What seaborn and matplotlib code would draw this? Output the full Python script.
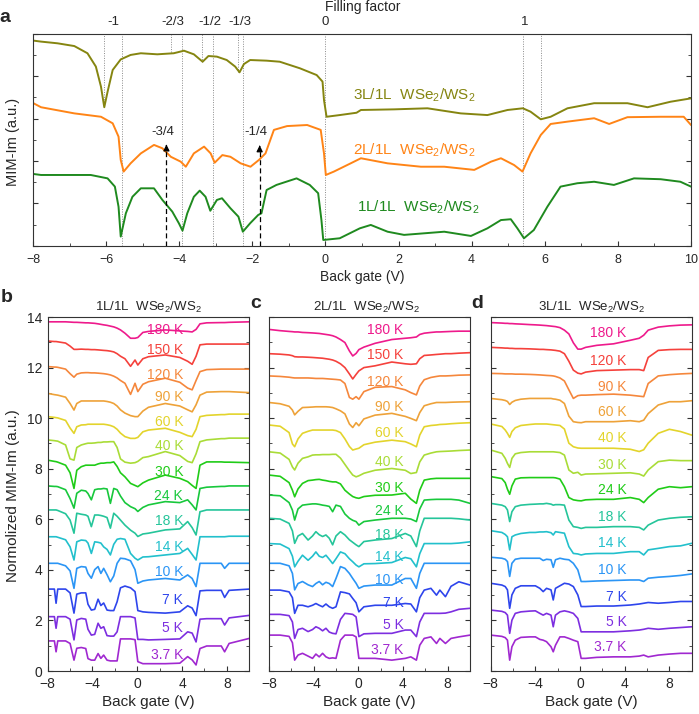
import numpy as np
import matplotlib
matplotlib.use("Agg")
import matplotlib.pyplot as plt
import matplotlib.transforms as mtransforms
from matplotlib.ticker import MultipleLocator
import seaborn as sns

sns.set_style("ticks")
plt.rcParams["font.family"] = ["Liberation Sans", "DejaVu Sans"]
plt.rcParams["mathtext.fontset"] = "custom"
plt.rcParams["mathtext.rm"] = "Liberation Sans"
plt.rcParams["axes.linewidth"] = 0.8
plt.rcParams["axes.edgecolor"] = "#333333"

# ---------------- panel a: MIM-Im vs back gate ----------------
A_X_3L = [-8, -7.78, -7.33, -6.87, -6.51, -6.28, -6.14, -6.05, -5.96, -5.82, -5.60, -5.33, -5.05, -4.60,
          -4.15, -3.87, -3.60, -3.36, -3.20, -2.97, -2.70, -2.47, -2.35, -2.23, -2.06, -1.61, -1.25, -0.70,
          -0.24, -0.08, -0.04, 0.03, 0.39, 0.85, 0.97, 1.88, 2.79, 3.70, 4.43, 4.98, 5.40, 5.61, 5.89, 6.16,
          6.62, 7.35, 8.26, 8.81, 9.44, 10.0]
A_Y_3L = [9.69, 9.64, 9.56, 9.43, 9.09, 8.46, 7.51, 6.54, 7.27, 8.30, 8.80, 9.01, 9.09, 9.04, 9.09, 9.21,
          9.04, 8.69, 8.96, 8.93, 8.77, 8.46, 8.19, 8.58, 8.77, 8.74, 8.69, 8.38, 8.06, 7.75, 6.88, 6.09,
          6.17, 6.28, 6.41, 6.44, 6.49, 6.25, 6.17, 6.41, 6.49, 6.33, 5.97, 6.09, 6.49, 6.73, 6.73, 6.54,
          6.80, 6.96]

A_X_2L = [-8, -7.78, -6.87, -6.14, -5.82, -5.66, -5.60, -5.52, -5.33, -5.05, -4.69, -4.46, -4.23, -3.96,
          -3.82, -3.60, -3.32, -3.14, -3.03, -2.82, -2.60, -2.32, -2.05, -1.82, -1.64, -1.41, -1.05, -0.50,
          -0.13, -0.04, 0.01, 0.23, 0.69, 0.97, 1.70, 2.61, 3.25, 4.07, 4.53, 4.80, 5.16, 5.39, 5.61, 5.89,
          6.16, 6.62, 7.35, 7.76, 8.26, 9.17, 9.80, 10.0]
A_Y_2L = [6.74, 6.54, 6.25, 6.09, 5.78, 5.15, 4.05, 3.50, 3.89, 4.36, 4.76, 4.60, 4.20, 3.97, 3.73, 4.36,
          4.68, 4.36, 3.92, 4.28, 4.20, 3.89, 3.73, 4.05, 4.36, 5.47, 5.65, 5.70, 5.47, 4.36, 3.34, 3.50,
          3.89, 4.13, 3.89, 3.73, 3.73, 3.58, 3.97, 4.13, 3.81, 3.50, 4.36, 5.23, 5.75, 5.86, 6.02, 5.75,
          6.07, 6.09, 6.09, 5.70]

A_X_1L = [-8, -7.78, -6.42, -5.96, -5.76, -5.66, -5.60, -5.46, -5.28, -5.05, -4.69, -4.46, -4.19, -4.01,
          -3.91, -3.78, -3.60, -3.44, -3.28, -3.15, -2.97, -2.83, -2.60, -2.38, -2.26, -2.06, -1.84, -1.75,
          -1.61, -1.34, -0.79, -0.43, -0.20, -0.11, -0.06, 0.39, 0.94, 1.24, 1.70, 2.15, 3.25, 3.98, 4.43,
          4.80, 5.07, 5.25, 5.43, 5.70, 6.07, 6.43, 6.89, 7.35, 7.89, 8.44, 9.17, 9.71, 10.0]
A_Y_1L = [3.39, 3.34, 3.34, 3.18, 2.79, 1.84, 0.43, 1.53, 2.31, 2.71, 2.71, 2.16, 1.61, 1.06, 0.71, 1.53,
          2.31, 2.60, 2.31, 1.65, 2.16, 2.24, 1.77, 1.37, 0.66, 1.06, 1.45, 1.53, 2.63, 2.87, 3.18, 2.87,
          2.48, 1.21, 0.27, 0.35, 0.82, 0.98, 0.66, 0.51, 0.66, 0.46, 0.82, 1.21, 1.25, 0.82, 0.35, 0.74,
          1.84, 2.79, 2.95, 3.02, 2.87, 3.18, 3.14, 3.02, 2.79]

# filling factors on the top axis
FILL_POS = [-5.8, -4.17, -3.17, -2.33, 0.0, 5.44]
FILL_TXT = ["-1", "-2/3", "-1/2", "-1/3", "0", "1"]
# guide lines: full height (1L/2L) and short ones ending on the 3L curve
GUIDE_LONG = [-5.57, -3.92, -3.08, -2.26, 0.0, 5.41]
GUIDE_SHORT = [-6.07, -4.23, -3.38, -2.39, 5.90]
GUIDE_SHORT_END = [6.54, 9.16, 8.69, 8.22, 5.97]
ARROW_X = [-4.35, -1.80]
ARROW_TIP = [4.91, 4.87]
ARROW_TXT = ["-3/4", "-1/4"]

# ---------------- panel b: 1L/1L temperature series ----------------
TEMPS_BC = ["180 K", "150 K", "120 K", "90 K", "60 K", "40 K", "30 K", "24 K", "18 K", "14 K", "10 K",
            "7 K", "5 K", "3.7 K"]
TEMPS_D = ["180 K", "120 K", "90 K", "60 K", "40 K", "30 K", "24 K", "18 K", "14 K", "10 K", "7 K", "5 K",
           "3.7 K"]

B_X = [-8, -7.4, -7.25, -7.1, -6.4, -6.0, -5.65, -5.4, -5.0, -4.6, -4.4, -4.1, -3.8, -3.5, -3.25, -3.0,
       -2.7, -2.4, -2.1, -1.8, -1.5, -1.1, -0.6, -0.2, 0.05, 0.5, 1.0, 2.5, 3.8, 4.5, 4.9, 5.25, 5.6, 6.2,
       7.5, 7.8, 8.2, 10]
B_BASE = [13.81, 13.05, 12.04, 10.98, 10.06, 9.14, 8.34, 7.32, 6.37, 5.31, 4.26, 3.24, 2.15, 1.19]
b_180 = [0, 0, 0, 0, 0, -0.01, -0.02, -0.02, -0.03, -0.04, -0.04, -0.05, -0.06, -0.08, -0.1, -0.12, -0.14,
         -0.17, -0.2, -0.25, -0.32, -0.45, -0.65, -0.65, -0.62, -0.42, -0.38, -0.32, -0.36, -0.38, -0.4,
         -0.3, -0.08, -0.04, -0.03, -0.03, -0.02, 0]
b_150 = [0, -0.02, -0.02, -0.03, -0.08, -0.2, -0.33, -0.33, -0.32, -0.33, -0.33, -0.34, -0.34, -0.35,
         -0.36, -0.37, -0.38, -0.4, -0.43, -0.5, -0.6, -0.7, -1.0, -0.75, -0.95, -0.7, -0.62, -0.55, -0.65,
         -0.8, -0.92, -0.6, -0.15, -0.12, -0.12, -0.12, -0.12, -0.12]
b_120 = [0, -0.02, -0.02, -0.03, -0.1, -0.28, -0.42, -0.3, -0.25, -0.24, -0.24, -0.25, -0.25, -0.26,
         -0.27, -0.28, -0.3, -0.33, -0.38, -0.45, -0.55, -0.66, -1.1, -0.66, -0.99, -0.7, -0.6, -0.46,
         -0.62, -0.85, -0.92, -0.55, -0.2, -0.12, -0.1, -0.1, -0.1, -0.1]
b_90 = [0, -0.05, -0.06, -0.07, -0.15, -0.4, -0.66, -0.4, -0.3, -0.3, -0.3, -0.3, -0.3, -0.3, -0.3, -0.3,
        -0.32, -0.35, -0.4, -0.5, -0.65, -0.78, -0.88, -0.92, -0.92, -0.7, -0.55, -0.4, -0.5, -0.65, -0.73,
        -0.45, -0.07, 0.05, 0.07, 0.07, 0.07, 0.03]
b_60 = [0, -0.03, -0.04, -0.05, -0.15, -0.45, -0.66, -0.4, -0.33, -0.32, -0.3, -0.3, -0.3, -0.3, -0.3,
        -0.3, -0.32, -0.35, -0.4, -0.5, -0.65, -0.79, -0.86, -0.86, -0.82, -0.6, -0.53, -0.46, -0.62, -0.75,
        -0.79, -0.5, 0, 0.05, 0.08, 0.08, 0.1, 0.1]
b_40 = [0, -0.03, -0.04, -0.05, -0.2, -0.75, -0.8, -0.3, -0.2, -0.15, -0.13, -0.13, -0.12, -0.1, -0.1,
        -0.08, -0.08, -0.07, -0.07, -0.3, -0.75, -0.88, -0.92, -0.9, -0.85, -0.7, -0.66, -0.46, -0.62,
        -0.85, -0.9, -0.55, -0.07, 0, 0.05, 0.05, 0.07, 0.07]
b_30 = [0, -0.05, -0.06, -0.08, -0.2, -0.5, -1.12, -0.4, -0.26, -0.2, -0.2, -0.2, -0.2, -0.15, -0.12,
        -0.12, -0.1, -0.1, -0.07, -0.25, -0.5, -0.66, -0.92, -1.0, -1.05, -0.9, -0.79, -0.59, -0.72, -0.85,
        -1.0, -1.12, -0.2, -0.07, -0.07, -0.08, -0.08, -0.1]
b_24 = [0, -0.02, -0.02, -0.03, -0.15, -0.5, -0.88, -0.29, -0.17, -0.2, -0.3, -0.55, -0.15, -0.12, -0.12,
        -0.1, -0.12, -0.69, -0.1, -0.15, -0.4, -0.66, -0.82, -0.9, -1.01, -0.85, -0.75, -0.62, -0.66, -0.55,
        -0.75, -0.95, -0.1, -0.05, -0.02, -0.02, 0, 0]
b_18 = [0, 0, 0, -0.02, -0.15, -0.4, -0.92, -0.13, -0.17, -0.2, -0.25, -0.66, -0.2, -0.2, -0.22, -0.25,
        -0.3, -0.72, -0.13, -0.25, -0.4, -0.6, -0.8, -0.92, -1.05, -0.95, -0.92, -0.79, -0.75, -0.46, -0.7,
        -0.99, -0.07, 0, 0, 0, 0, 0]
b_14 = [0, 0, 0, -0.02, -0.12, -0.4, -0.92, -0.2, -0.13, -0.15, -0.25, -0.66, -0.2, -0.22, -0.25, -0.4,
        -0.5, -0.72, -0.3, -0.1, -0.07, -0.1, -0.66, -0.85, -0.92, -0.8, -0.79, -0.72, -0.66, -0.46, -0.7,
        -0.92, 0, 0, 0, 0, 0.02, 0.02]
b_10 = [0, 0, 0, 0, -0.1, -0.3, -0.99, -0.2, -0.13, -0.15, -0.4, -0.59, -0.25, -0.13, -0.4, -0.2, -0.45,
        -0.73, -0.5, 0, 0.2, 0.18, 0.1, -0.25, -0.79, -0.7, -0.66, -0.6, -0.66, -0.46, -0.6, -0.92, 0, 0,
        0, -0.2, 0, 0]
b_7 = [0, 0, -0.56, 0, 0, -0.15, -0.95, -0.2, -0.15, -0.15, -0.6, -0.83, -0.8, -0.4, -0.65, -0.55, -0.83,
       -0.85, -0.85, -0.5, 0.05, 0.12, 0.05, -0.1, -0.85, -0.9, -0.92, -0.95, -0.9, -0.66, -0.75, -1.05,
       -0.07, -0.05, -0.05, -0.33, -0.05, 0]
b_5 = [0, 0, -0.46, 0, 0, -0.1, -0.92, -0.13, -0.07, -0.1, -0.5, -0.73, -0.7, -0.26, -0.46, -0.4, -0.75,
       -0.77, -0.77, -0.6, 0, 0, 0, -0.05, -0.9, -0.9, -0.92, -0.9, -0.88, -0.6, -0.65, -1.0, -0.1, -0.08,
       -0.08, -0.33, -0.05, 0.05]
b_3p7 = [0, 0, -0.43, 0, 0, -0.1, -0.76, -0.29, -0.26, -0.3, -0.7, -0.76, -0.76, -0.5, -0.69, -0.56,
         -0.76, -0.79, -0.79, -0.79, 0.08, 0.08, 0.08, 0.05, -0.82, -0.9, -0.9, -0.9, -0.88, -0.62, -0.75,
         -0.95, -0.3, -0.2, -0.2, -0.43, -0.1, 0.1]
B_LABEL_Y = [13.49, 12.69, 11.71, 10.85, 9.86, 8.91, 7.88, 6.92, 5.95, 4.92, 3.93, 2.81, 1.69, 0.63]

# ---------------- panel c: 2L/1L temperature series ----------------
C_X = [-8, -7, -6.2, -5.9, -5.7, -5.4, -5.0, -4.5, -4.1, -3.8, -3.5, -3.2, -2.9, -2.6, -2.3, -2.0, -1.6,
       -1.2, -0.8, -0.5, -0.2, 0.05, 0.5, 1.5, 3, 4.2, 4.7, 5.2, 5.5, 5.9, 6.5, 7.0, 7.3, 7.8, 8.3, 9, 10]
C_BASE = [13.51, 12.55, 11.67, 10.62, 9.73, 8.67, 7.75, 6.96, 6.04, 5.04, 4.26, 3.2, 2.24, 1.42]
c_180 = [0, -0.05, -0.08, -0.09, -0.1, -0.1, -0.12, -0.13, -0.14, -0.15, -0.16, -0.18, -0.2, -0.22, -0.25,
         -0.3, -0.4, -0.52, -0.85, -1.05, -0.95, -0.8, -0.7, -0.55, -0.4, -0.35, -0.33, -0.3, -0.2, -0.15,
         -0.12, -0.1, -0.1, -0.09, -0.08, -0.07, -0.07]
c_150 = [0, -0.02, -0.05, -0.08, -0.12, -0.13, -0.13, -0.14, -0.15, -0.16, -0.17, -0.18, -0.2, -0.22,
         -0.25, -0.3, -0.4, -0.55, -0.8, -1.0, -0.82, -0.68, -0.55, -0.48, -0.33, -0.4, -0.42, -0.4, -0.2,
         -0.07, -0.05, -0.03, -0.02, 0, 0, 0.02, 0.04]
c_120 = [0, -0.02, -0.05, -0.07, -0.08, -0.08, -0.08, -0.08, -0.09, -0.1, -0.1, -0.1, -0.11, -0.12,
         -0.13, -0.14, -0.16, -0.3, -0.85, -0.92, -0.82, -0.92, -0.62, -0.45, -0.42, -0.55, -0.66, -0.75,
         -0.4, -0.15, -0.06, -0.02, 0, 0, 0.01, 0.03, 0.04]
c_90 = [0, -0.05, -0.15, -0.3, -0.49, -0.35, -0.2, -0.19, -0.18, -0.17, -0.17, -0.17, -0.17, -0.18, -0.2,
        -0.25, -0.33, -0.45, -0.85, -0.99, -0.8, -0.92, -0.65, -0.5, -0.43, -0.55, -0.63, -0.72, -0.4,
        -0.13, -0.05, 0, 0, 0, 0.01, 0.02, 0.03]
c_60 = [0, -0.05, -0.3, -0.75, -0.86, -0.55, -0.33, -0.25, -0.2, -0.2, -0.2, -0.2, -0.2, -0.2, -0.2,
        -0.22, -0.3, -0.55, -0.85, -0.99, -0.95, -0.92, -0.78, -0.68, -0.6, -0.66, -0.75, -0.86, -0.4,
        -0.07, -0.02, 0, 0.02, 0.03, 0.05, 0.07, 0.09]
c_40 = [0, -0.05, -0.3, -0.6, -0.72, -0.45, -0.26, -0.2, -0.13, -0.12, -0.12, -0.11, -0.11, -0.11, -0.1,
        -0.1, -0.25, -0.5, -0.75, -0.92, -0.99, -0.95, -0.85, -0.73, -0.66, -0.73, -0.86, -0.82, -0.4,
        -0.13, -0.05, 0, 0.01, 0.02, 0.03, 0.05, 0.07]
c_30 = [0, -0.05, -0.3, -0.6, -0.86, -0.55, -0.33, -0.22, -0.2, -0.18, -0.17, -0.2, -0.22, -0.25, -0.27,
        -0.27, -0.35, -0.6, -0.75, -0.85, -0.9, -0.92, -0.85, -0.8, -0.79, -0.72, -0.95, -1.12, -0.6, -0.2,
        -0.15, -0.13, -0.13, -0.13, -0.13, -0.13, -0.13]
c_24 = [0, -0.03, -0.3, -0.6, -0.99, -0.55, -0.4, -0.37, -0.35, -0.35, -0.37, -0.4, -0.42, -0.45, -0.66,
        -0.4, -0.45, -0.75, -0.92, -1.0, -1.05, -1.19, -1.05, -0.99, -0.92, -0.92, -0.95, -1.05, -0.55,
        -0.2, -0.18, -0.17, -0.17, -0.17, -0.17, -0.2, -0.33]
c_18 = [0, -0.03, -0.2, -0.5, -0.99, -0.7, -0.6, -0.86, -0.7, -0.53, -0.65, -0.72, -0.66, -0.79, -1.05,
        -0.7, -0.53, -0.66, -0.85, -0.95, -1.05, -1.12, -0.92, -0.86, -0.8, -0.6, -0.7, -1.12, -0.5, 0, 0,
        0, 0, 0, 0, -0.02, -0.07]
c_14 = [0, -0.02, -0.2, -0.5, -0.92, -0.7, -0.46, -0.66, -0.5, -0.33, -0.5, -0.55, -0.46, -0.62, -0.79,
        -0.6, -0.33, -0.4, -0.6, -0.72, -0.85, -0.92, -0.8, -0.79, -0.75, -0.55, -0.6, -0.92, -0.4, 0, 0, 0,
        0, 0, 0, 0.02, 0.07]
c_10 = [0, 0, -0.1, -0.4, -1.05, -0.8, -0.72, -0.85, -0.92, -0.8, -0.72, -0.85, -0.75, -0.8, -0.92, -0.6,
        -0.13, -0.2, -0.4, -0.6, -0.79, -0.99, -0.9, -0.86, -0.86, -0.6, -0.6, -0.99, -0.4, 0, 0, 0, 0, 0,
        0, 0, 0]
c_7 = [0, 0, -0.07, -0.3, -0.92, -0.6, -0.6, -0.66, -0.6, -0.53, -0.6, -0.66, -0.55, -0.66, -0.72, -0.66,
       -0.07, -0.1, -0.15, -0.33, -0.5, -0.86, -0.66, -0.6, -0.6, -0.53, -0.55, -0.86, -0.3, 0, 0.07, -0.2,
       0, -0.26, 0.15, 0.33, 0.2]
c_5 = [0, 0, -0.05, -0.3, -0.95, -0.6, -0.55, -0.68, -0.6, -0.49, -0.55, -0.65, -0.55, -0.7, -0.75, -0.77,
       -0.2, 0.04, 0.02, 0, -0.1, -0.88, -0.77, -0.75, -0.75, -0.62, -0.62, -0.88, -0.3, 0.04, 0.04, 0.04,
       0.04, 0.05, 0.1, 0.2, 0.24]
c_3p7 = [0, 0, -0.05, -0.3, -0.99, -0.79, -0.72, -0.83, -0.92, -0.75, -0.86, -0.72, -0.86, -0.92, -0.9,
         -0.92, -0.2, 0, 0, 0, -0.07, -0.92, -0.92, -0.92, -0.99, -0.92, -0.86, -0.99, -0.4, -0.13, -0.07,
         -0.33, -0.13, -0.33, -0.13, -0.07, 0]
C_LABEL_Y = [13.49, 12.5, 11.44, 10.43, 9.4, 8.28, 7.22, 6.34, 5.38, 4.52, 3.6, 2.68, 1.82, 0.83]

# ---------------- panel d: 3L/1L temperature series ----------------
D_X = [-8, -7, -6.7, -6.5, -6.3, -6.1, -5.8, -5.3, -4.5, -4.0, -3.6, -3.3, -3.0, -2.6, -2.4, -2.2, -1.8,
       -1.4, -1.0, -0.6, -0.2, 0.1, 0.5, 1.5, 3, 4.5, 5.3, 5.7, 6.1, 7, 8, 9, 10]
D_BASE = [13.78, 12.8, 11.77, 10.78, 9.77, 8.74, 7.69, 6.63, 5.55, 4.5, 3.47, 2.41, 1.42]
d_180 = [0, -0.02, -0.03, -0.03, -0.04, -0.04, -0.05, -0.06, -0.08, -0.09, -0.1, -0.11, -0.12, -0.14,
         -0.15, -0.16, -0.2, -0.3, -0.45, -0.8, -1.05, -1.05, -0.98, -0.9, -0.84, -0.7, -0.62, -0.5, -0.3,
         -0.18, -0.13, -0.1, -0.09]
d_120 = [0, -0.02, -0.03, -0.03, -0.04, -0.04, -0.05, -0.05, -0.06, -0.07, -0.08, -0.08, -0.09, -0.1,
         -0.11, -0.12, -0.15, -0.25, -0.55, -0.9, -1.02, -1.05, -0.98, -0.92, -0.9, -0.88, -0.88, -0.92,
         -0.4, -0.12, -0.09, -0.08, -0.08]
d_90 = [0, -0.01, -0.02, -0.02, -0.02, -0.02, -0.03, -0.03, -0.04, -0.05, -0.06, -0.07, -0.08, -0.09,
        -0.1, -0.12, -0.18, -0.3, -0.65, -0.99, -0.88, -0.86, -0.86, -0.84, -0.82, -0.86, -0.9, -0.92,
        -0.4, -0.1, -0.05, -0.02, 0]
d_60 = [0, -0.05, -0.08, -0.12, -0.24, -0.15, -0.08, -0.03, 0, 0, 0, 0, 0, 0, -0.02, -0.03, -0.07, -0.2,
        -0.7, -0.92, -0.95, -0.96, -0.92, -0.92, -0.92, -0.88, -0.92, -0.86, -0.6, -0.26, -0.13, -0.13,
        -0.09]
d_40 = [0, -0.1, -0.24, -0.37, -0.53, -0.3, -0.15, -0.06, -0.02, 0, 0, 0, 0, -0.02, -0.03, -0.04, -0.06,
        -0.2, -0.76, -0.9, -0.95, -0.96, -0.96, -0.96, -0.96, -1.0, -1.09, -1.02, -0.76, -0.37, -0.21,
        -0.3, -0.44]
d_30 = [0, -0.13, -0.33, -0.53, -0.69, -0.33, -0.15, -0.1, -0.07, -0.07, -0.07, -0.07, -0.07, -0.07,
        -0.07, -0.08, -0.1, -0.2, -0.79, -0.92, -0.88, -0.99, -0.95, -0.94, -0.92, -0.9, -0.95, -1.03,
        -0.79, -0.46, -0.4, -0.42, -0.42]
d_24 = [0, -0.08, -0.24, -0.5, -0.7, -0.37, -0.1, -0.05, -0.04, -0.04, -0.04, -0.04, -0.04, -0.04, -0.04,
        -0.05, -0.1, -0.4, -0.83, -0.92, -0.95, -0.96, -0.92, -0.9, -0.9, -0.83, -0.9, -1.03, -0.83, -0.5,
        -0.4, -0.44, -0.4]
d_18 = [0, -0.07, -0.13, -0.26, -0.72, -0.33, -0.13, -0.07, -0.04, -0.03, -0.02, -0.02, 0, -0.03, -0.07,
        -0.05, -0.05, -0.07, -0.66, -0.92, -0.95, -0.99, -0.95, -0.95, -0.92, -0.92, -0.95, -1.05, -0.86,
        -0.66, -0.59, -0.55, -0.53]
d_14 = [0, -0.07, -0.15, -0.24, -0.76, -0.24, -0.17, -0.11, -0.07, -0.07, -0.05, -0.05, -0.04, -0.08,
        -0.17, -0.04, -0.07, -0.1, -0.63, -0.9, -0.92, -0.96, -0.92, -0.9, -0.9, -0.83, -0.83, -0.96,
        -0.76, -0.7, -0.63, -0.6, -0.5]
d_10 = [0, -0.04, -0.08, -0.17, -0.76, -0.24, -0.08, -0.04, -0.04, -0.04, -0.04, -0.13, -0.08, -0.1,
        -0.4, -0.1, -0.04, -0.08, -0.1, -0.24, -0.5, -0.96, -0.96, -0.94, -0.92, -0.9, -0.9, -0.96, -0.83,
        -0.79, -0.76, -0.72, -0.66]
d_7 = [0, -0.07, -0.13, -0.26, -0.99, -0.46, -0.2, -0.1, -0.1, -0.1, -0.2, -0.33, -0.2, -0.26, -0.66,
       -0.2, -0.1, 0, -0.03, -0.13, -0.46, -0.92, -0.92, -0.9, -0.9, -0.86, -0.82, -0.79, -0.76, -0.79,
       -0.76, -0.72, -0.72]
d_5 = [0, -0.05, -0.1, -0.2, -0.92, -0.4, -0.13, -0.07, -0.04, -0.03, -0.13, -0.2, -0.13, -0.2, -0.66,
       -0.2, -0.07, -0.03, -0.07, -0.13, -0.33, -0.86, -0.86, -0.86, -0.86, -0.82, -0.79, -0.76, -0.72,
       -0.76, -0.72, -0.69, -0.66]
d_3p7 = [0, -0.05, -0.1, -0.2, -0.99, -0.46, -0.2, -0.09, -0.07, -0.07, -0.17, -0.2, -0.26, -0.46, -0.66,
         -0.4, -0.07, -0.07, -0.13, -0.2, -0.26, -0.92, -0.92, -0.88, -0.86, -0.86, -0.83, -0.79, -0.86,
         -0.79, -0.75, -0.72, -0.72]
D_LABEL_Y = [13.35, 12.27, 11.24, 10.23, 9.2, 8.15, 7.16, 6.11, 5.05, 4.0, 2.94, 1.95, 0.96]

# ---------------- styling ----------------
COL_3L, COL_2L, COL_1L = "#858510", "#ff8416", "#1f8a1f"
TEMP_COLORS = ["#ee1a8c", "#f5413c", "#f5873c", "#eea239", "#e3d42c", "#a9dc37", "#20cc18", "#18c83c",
               "#25c59a", "#22c0cc", "#2b95f5", "#2e45ec", "#7d2ee0", "#a028d0"]
TEMP_COLORS_D = TEMP_COLORS[:7] + TEMP_COLORS[8:]
WSE = "WSe$_\\mathregular{2}$/WS$_\\mathregular{2}$"

fig = plt.figure(figsize=(6.99, 7.14), dpi=100)

# ---- panel a ----
ax = fig.add_axes([0.0472, 0.6559, 0.9414, 0.2965])
for xs, ys, col in [(A_X_3L, A_Y_3L, COL_3L), (A_X_2L, A_Y_2L, COL_2L), (A_X_1L, A_Y_1L, COL_1L)]:
    sns.lineplot(x=xs, y=ys, ax=ax, color=col, linewidth=1.4, estimator=None, errorbar=None)

ax.vlines(GUIDE_LONG, 0, 10, colors="#8a8a8a", linestyles=(0, (1, 1.5)), linewidth=0.7, zorder=0)
for gx, gy in zip(GUIDE_SHORT, GUIDE_SHORT_END):
    ax.vlines(gx, gy, 10, colors="#8a8a8a", linestyles=(0, (1, 1.5)), linewidth=0.7, zorder=0)

for axx, tip, txt in zip(ARROW_X, ARROW_TIP, ARROW_TXT):
    ax.vlines(axx, 0, tip - 0.25, colors="black", linestyles=(0, (4, 2.5)), linewidth=0.9)
    ax.annotate("", xy=(axx, tip), xytext=(axx, tip - 0.35),
                arrowprops=dict(arrowstyle="-|>", color="black", lw=0.9, mutation_scale=9))
    ax.text(axx - 0.11, tip + 0.48, txt, ha="center", va="center", fontsize=9.5)

ax.text(0.74, 7.12, "3L/1L  " + WSE, color=COL_3L, fontsize=11, va="center")
ax.text(0.74, 4.52, "2L/1L  " + WSE, color=COL_2L, fontsize=11, va="center")
ax.text(0.87, 1.84, "1L/1L  " + WSE, color=COL_1L, fontsize=11, va="center")

trans = mtransforms.blended_transform_factory(ax.transData, ax.transAxes)
for fx, ft in zip(FILL_POS, FILL_TXT):
    ax.text(fx, 1.058, ft, transform=trans, ha="center", va="center", fontsize=9.5)
fig.text(363 / 699, 1 - 7 / 714, "Filling factor", ha="center", va="center", fontsize=10)

ax.set_xlim(-8, 10)
ax.set_ylim(0, 10)
ax.xaxis.set_major_locator(MultipleLocator(2))
ax.xaxis.set_minor_locator(MultipleLocator(1))
ax.yaxis.set_major_locator(MultipleLocator(2))
ax.yaxis.set_minor_locator(MultipleLocator(1))
ax.tick_params(which="both", direction="in", left=True, right=True, top=False, labelleft=False,
               labelsize=9, pad=6, color="#333333")
ax.tick_params(which="major", length=3.5)
ax.tick_params(which="minor", length=2)
ax.set_xlabel("Back gate (V)", fontsize=10, labelpad=3)
fig.text(13 / 699, 1 - 142 / 714, "MIM-Im (a.u.)", rotation=90, ha="center", va="center", fontsize=10.5)
fig.text(5 / 699, 1 - 17 / 714, "a", fontsize=14, fontweight="bold", ha="center", va="center")

# ---- panels b, c, d ----
panels = [
    ([0.0682, 0.0602, 0.2884, 0.4958], B_X, B_BASE,
     [b_180, b_150, b_120, b_90, b_60, b_40, b_30, b_24, b_18, b_14, b_10, b_7, b_5, b_3p7],
     TEMP_COLORS, TEMPS_BC, B_LABEL_Y, 4.1, "1L/1L  " + WSE, 0.5, "b", (7 / 699, 1 - 297 / 714)),
    ([0.3848, 0.0602, 0.2876, 0.4958], C_X, C_BASE,
     [c_180, c_150, c_120, c_90, c_60, c_40, c_30, c_24, c_18, c_14, c_10, c_7, c_5, c_3p7],
     TEMP_COLORS, TEMPS_BC, C_LABEL_Y, 4.05, "2L/1L  " + WSE, 0.486, "c", (256 / 699, 1 - 303 / 714)),
    ([0.7020, 0.0602, 0.2876, 0.4958], D_X, D_BASE,
     [d_180, d_120, d_90, d_60, d_40, d_30, d_24, d_18, d_14, d_10, d_7, d_5, d_3p7],
     TEMP_COLORS_D, TEMPS_D, D_LABEL_Y, 4.15, "3L/1L  " + WSE, 0.5, "d", (477 / 699, 1 - 303 / 714)),
]

for i, (rect, gx, bases, curves, cols, temps, lab_y, lab_x, title, tx, letter, lpos) in enumerate(panels):
    ax = fig.add_axes(rect)
    for base, prof, col, t, ly in zip(bases, curves, cols, temps, lab_y):
        yy = base + np.asarray(prof)
        sns.lineplot(x=gx, y=yy, ax=ax, color=col, linewidth=1.2, estimator=None, errorbar=None)
        ax.text(lab_x, ly, t, color=col, ha="right", va="center", fontsize=10)
    ax.set_xlim(-8, 10)
    ax.set_ylim(0, 14)
    ax.xaxis.set_major_locator(MultipleLocator(4))
    ax.xaxis.set_minor_locator(MultipleLocator(2))
    ax.yaxis.set_major_locator(MultipleLocator(2))
    ax.yaxis.set_minor_locator(MultipleLocator(1))
    ax.tick_params(which="both", direction="in", left=True, right=True, top=False,
                   labelleft=(i == 0), labelsize=10, pad=4, color="#333333")
    ax.tick_params(which="major", length=3.5)
    ax.tick_params(which="minor", length=2)
    ax.set_xlabel("Back gate (V)", fontsize=11, labelpad=3)
    ax.text(tx, 1.026, title, transform=ax.transAxes, ha="center", va="center", fontsize=9.5)
    fig.text(lpos[0], lpos[1], letter, fontsize=14, fontweight="bold", ha="center", va="center")

fig.text(13 / 699, 1 - 496 / 714, "Normolized MIM-Im (a.u.)", rotation=90, ha="center", va="center",
         fontsize=11)

fig.savefig("out.png", dpi=100)
